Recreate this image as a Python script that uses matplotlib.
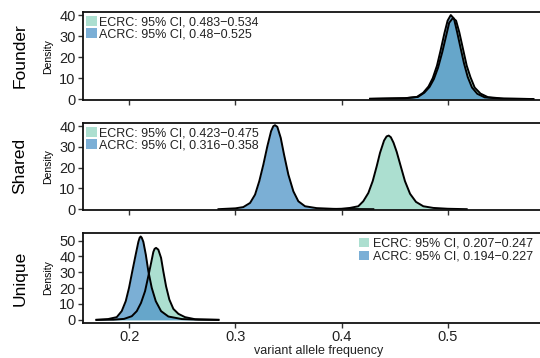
import matplotlib
matplotlib.use('Agg')
import matplotlib.pyplot as plt
from matplotlib.patches import Patch

plt.rcParams['font.family'] = ['Liberation Sans', 'DejaVu Sans']

# 面板名称和图例文字
panel_names = ['Founder', 'Shared', 'Unique']
founder_labels = ['ECRC: 95% CI, 0.483\u22120.534', 'ACRC: 95% CI, 0.48\u22120.525']
shared_labels = ['ECRC: 95% CI, 0.423\u22120.475', 'ACRC: 95% CI, 0.316\u22120.358']
unique_labels = ['ECRC: 95% CI, 0.207\u22120.247', 'ACRC: 95% CI, 0.194\u22120.227']

# 密度曲线
founder_ecrc_x = [0.427, 0.46, 0.472, 0.478, 0.483, 0.487, 0.491, 0.495, 0.4985, 0.5015, 0.505,
                  0.508, 0.511, 0.5145, 0.518, 0.5215, 0.5255, 0.531, 0.538, 0.553, 0.581]
founder_ecrc_y = [0.1, 0.4, 1.0, 3.0, 5.8, 9.5, 15, 22.5, 30, 36.5, 38.8,
                  37.5, 32, 24, 16, 10.5, 5.5, 2.6, 0.9, 0.2, 0.0]
founder_acrc_x = [0.427, 0.46, 0.471, 0.477, 0.482, 0.486, 0.490, 0.4935, 0.497, 0.500, 0.503,
                  0.506, 0.509, 0.512, 0.5155, 0.519, 0.523, 0.528, 0.535, 0.55, 0.58]
founder_acrc_y = [0.1, 0.4, 1.0, 3.0, 6.0, 10, 16, 23.5, 31.5, 37.5, 40.2,
                  38.5, 32, 25, 17, 10.5, 5.5, 2.5, 0.8, 0.2, 0.0]

shared_ecrc_x = [0.385, 0.400, 0.408, 0.4158, 0.4205, 0.4253, 0.4294, 0.4332, 0.4363, 0.4401,
                 0.4425, 0.4445, 0.4465, 0.449, 0.452, 0.4558, 0.4598, 0.4646, 0.4702, 0.4771,
                 0.4865, 0.500, 0.518]
shared_ecrc_y = [0.0, 0.2, 0.6, 1.4, 3.8, 7.8, 13.5, 20.7, 27.1, 33.0,
                 35.0, 35.4, 34.6, 32.0, 27.6, 20.7, 13.5, 7.4, 3.5, 1.4,
                 0.6, 0.2, 0.0]
shared_acrc_x = [0.284, 0.300, 0.3074, 0.3138, 0.3185, 0.3225, 0.3263, 0.3301, 0.3336, 0.3357,
                 0.3373, 0.3395, 0.3427, 0.3458, 0.3499, 0.3546, 0.3593, 0.3656, 0.3766, 0.395, 0.43]
shared_acrc_y = [0.0, 0.4, 1.0, 3.0, 7.0, 13.5, 21.4, 30.3, 37.5, 39.9,
                 40.4, 39.6, 34.3, 26.3, 16.6, 8.6, 3.8, 1.4, 0.5, 0.1, 0.0]

unique_ecrc_x = [0.169, 0.185, 0.195, 0.2023, 0.207, 0.211, 0.2148, 0.2179, 0.2205, 0.2226,
                 0.2238, 0.2252, 0.2273, 0.2299, 0.232, 0.2346, 0.2377, 0.2415, 0.2462, 0.2525,
                 0.2619, 0.284]
unique_ecrc_y = [0.0, 0.1, 0.6, 2.3, 5.5, 10.7, 18.1, 27.6, 35.9, 42.8,
                 44.8, 45.4, 44.3, 39.1, 30.7, 21.2, 12.8, 6.9, 3.8, 1.7,
                 0.4, 0.0]
unique_acrc_x = [0.169, 0.180, 0.1881, 0.1928, 0.1966, 0.1997, 0.2028, 0.206, 0.2085, 0.2097,
                 0.2107, 0.2117, 0.2132, 0.2155, 0.2179, 0.2211, 0.2249, 0.2299, 0.2368, 0.2494,
                 0.265, 0.284]
unique_acrc_y = [0.0, 0.5, 1.7, 5.5, 11.8, 20.2, 30.7, 41.2, 49.2, 51.8,
                 52.6, 51.8, 49.2, 41.2, 30.7, 20.2, 11.8, 5.5, 2.1, 0.5,
                 0.1, 0.0]

x_ticks = [0.2, 0.3, 0.4, 0.5]
x_tick_labels = ['0.2', '0.3', '0.4', '0.5']

ecrc_color = '#acdfd0'
acrc_color = '#4f94c8'
acrc_legend = '#7bafd6'

fig = plt.figure(figsize=(5.4, 3.58), dpi=100)

panels = [
    (founder_ecrc_x, founder_ecrc_y, founder_acrc_x, founder_acrc_y, founder_labels,
     [0.1531, 0.7193, 0.8469, 0.2480], (-0.7, 41.8), [0, 10, 20, 30, 40]),
    (shared_ecrc_x, shared_ecrc_y, shared_acrc_x, shared_acrc_y, shared_labels,
     [0.1531, 0.4134, 0.8469, 0.2439], (-0.4, 41.6), [0, 10, 20, 30, 40]),
    (unique_ecrc_x, unique_ecrc_y, unique_acrc_x, unique_acrc_y, unique_labels,
     [0.1531, 0.0986, 0.8469, 0.2497], (-1.8, 54.6), [0, 10, 20, 30, 40, 50]),
]

for i, (ex, ey, ax_, ay, labels, pos, ylim, yticks) in enumerate(panels):
    ax = fig.add_axes(pos)
    ax.fill_between(ex, ey, 0, color=ecrc_color, lw=0)
    ax.plot(ex, ey, color='black', lw=1.4)
    ax.fill_between(ax_, ay, 0, color=acrc_color, alpha=0.75, lw=0)
    ax.plot(ax_, ay, color='black', lw=1.4)

    ax.set_xlim(0.156, 0.5871)
    ax.set_ylim(*ylim)
    ax.set_yticks(yticks)
    ax.set_xticks(x_ticks)
    if i == 2:
        ax.set_xticklabels(x_tick_labels)
    else:
        ax.set_xticklabels([])
    ax.tick_params(labelsize=10.5, length=3.5, width=1, colors='#333333', pad=1.5)
    ax.tick_params(labelcolor='#222222')
    ax.spines['right'].set_visible(False)
    for s in ['top', 'bottom', 'left']:
        ax.spines[s].set_linewidth(1.3)
        ax.spines[s].set_color('#111111')

    ax.text(-0.076, 0.5, 'Density', transform=ax.transAxes, rotation=90,
            ha='center', va='center', fontsize=7.5)
    ax.text(-0.137, 0.5, panel_names[i], transform=ax.transAxes, rotation=90,
            ha='center', va='center', fontsize=12.5)

    handles = [Patch(facecolor=ecrc_color, edgecolor='none'),
               Patch(facecolor=acrc_legend, edgecolor='none')]
    if i < 2:
        leg = ax.legend(handles, labels, loc='upper left', bbox_to_anchor=(0.007, 0.95),
                        frameon=False, fontsize=9, borderpad=0, borderaxespad=0,
                        handlelength=0.85, handleheight=0.8, handletextpad=0.2,
                        labelspacing=0.0)
    else:
        leg = ax.legend(handles, labels, loc='upper right', bbox_to_anchor=(0.985, 0.95),
                        frameon=False, fontsize=9, borderpad=0, borderaxespad=0,
                        handlelength=0.85, handleheight=0.8, handletextpad=0.3,
                        labelspacing=0.05)
    for t in leg.get_texts():
        t.set_color('#222222')

    if i == 2:
        ax.text(0.517, -0.32, 'variant allele frequency', transform=ax.transAxes,
                ha='center', va='center', fontsize=9, color='#222222')

fig.savefig('out.png', dpi=100)
